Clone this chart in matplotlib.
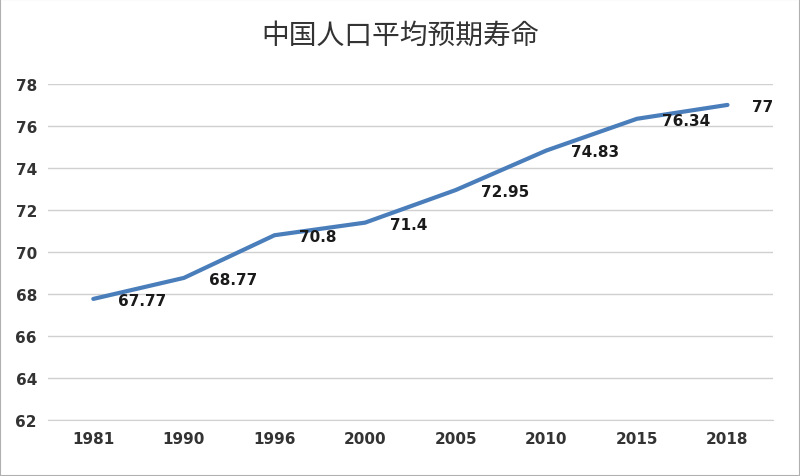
import matplotlib.pyplot as plt
from matplotlib import font_manager

# 数据
years = ["1981", "1990", "1996", "2000", "2005", "2010", "2015", "2018"]
life_exp = [67.77, 68.77, 70.8, 71.4, 72.95, 74.83, 76.34, 77]
yticks = [62, 64, 66, 68, 70, 72, 74, 76, 78]

# 找一个中文字体
cjk_path = None
for f in font_manager.fontManager.ttflist:
    if "CJK" in f.name and ("SC" in f.name or cjk_path is None):
        cjk_path = f.fname
        if "SC" in f.name:
            break
title_font = font_manager.FontProperties(fname=cjk_path, size=20) if cjk_path else \
    font_manager.FontProperties(family="Noto Sans CJK SC", size=20)

fig = plt.figure(figsize=(8, 4.77), dpi=100)
ax = fig.add_axes([0.06, 0.117, 0.906, 0.705])

x = list(range(len(years)))
ax.plot(x, life_exp, color="#4a7ebb", linewidth=3, solid_capstyle="round")

for xi, v in zip(x, life_exp):
    ax.annotate(f"{v:g}", (xi, v), xytext=(18, -1), textcoords="offset points",
                ha="left", va="center", fontsize=11, fontweight="bold", color="#1a1a1a")

ax.set_xlim(-0.5, len(years) - 0.5)
ax.set_ylim(62, 78)
ax.set_xticks(x)
ax.set_xticklabels(years)
ax.set_yticks(yticks)
ax.tick_params(length=0, labelsize=11, colors="#333333", pad=8)
for lbl in ax.get_xticklabels() + ax.get_yticklabels():
    lbl.set_fontweight("bold")

ax.grid(True, axis="y", color="#d0d0d0", linewidth=1)
ax.set_axisbelow(True)
for s in ["top", "right", "left"]:
    ax.spines[s].set_visible(False)
ax.spines["bottom"].set_color("#d0d0d0")

fig.text(0.5, 0.925, "中国人口平均预期寿命", ha="center", va="center",
         fontproperties=title_font, color="#333333")

fig.patches.append(plt.Rectangle((0, 0), 1, 1, transform=fig.transFigure,
                                 fill=False, edgecolor="#b0b0b0", linewidth=1.5))

fig.savefig("out.png", dpi=100)
